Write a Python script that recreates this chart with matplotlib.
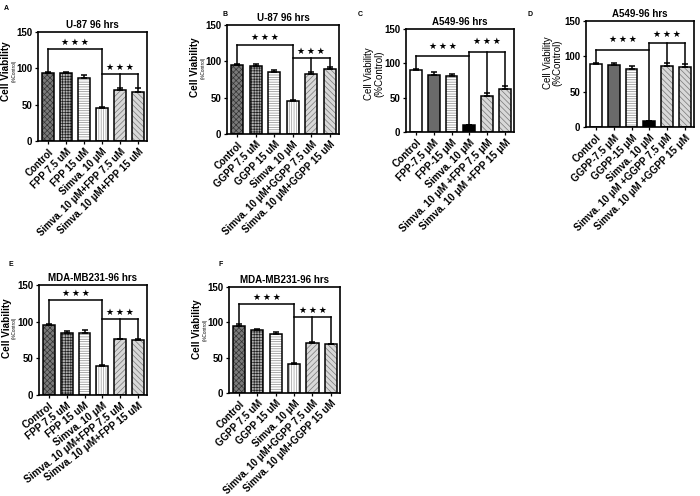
import matplotlib
matplotlib.use('Agg')
import matplotlib.pyplot as plt

# ---- data ----
labels_fpp = ['Control', 'FPP 7.5 uM', 'FPP 15 uM', 'Simva. 10 \u03bcM',
              'Simva. 10 \u03bcM+FPP 7.5 uM', 'Simva. 10 \u03bcM+FPP 15 uM']
labels_ggpp = ['Control', 'GGPP 7.5 uM', 'GGPP 15 uM', 'Simva. 10 \u03bcM',
               'Simva. 10 \u03bcM+GGPP 7.5 uM', 'Simva. 10 \u03bcM+GGPP 15 uM']
labels_fpp_a549 = ['Control', 'FPP-7.5 \u03bcM', 'FPP-15 \u03bcM', 'Simva. 10 \u03bcM',
                   'Simva. 10 \u03bcM +FPP 7.5 \u03bcM', 'Simva. 10 \u03bcM +FPP 15 \u03bcM']
labels_ggpp_a549 = ['Control', 'GGPP-7.5 \u03bcM', 'GGPP-15 \u03bcM', 'Simva. 10 \u03bcM',
                    'Simva. 10 \u03bcM +GGPP 7.5 \u03bcM', 'Simva. 10 \u03bcM +GGPP 15 \u03bcM']

vals_a = [94, 93, 87, 46, 70, 67]
errs_a = [1.5, 2, 4, 1, 3, 6]
vals_b = [95, 93, 85, 46, 82, 89]
errs_b = [2, 3, 3, 1, 4, 3]
vals_c = [90, 83, 82, 10, 53, 63]
errs_c = [1.5, 4, 3, 0.5, 4, 4]
vals_d = [89, 88, 82, 8, 86, 85]
errs_d = [1, 3, 4, 0.5, 4, 4]
vals_e = [95, 85, 85, 39.5, 76, 75]
errs_e = [2, 2, 4, 1, 1, 1]
vals_f = [95, 89, 83, 41, 71, 69]
errs_f = [2, 1, 3, 2, 1, 1]

# significance bracket heights (first: control vs simva, second: simva vs combos)
brackets_a = [126, 92]
brackets_b = [123, 105]
brackets_c = [111, 116]
brackets_d = [109, 119]
brackets_e = [130, 104]
brackets_f = [126, 108]

plt.rcParams['font.family'] = ['Liberation Sans', 'DejaVu Sans']
plt.rcParams['hatch.linewidth'] = 0.5

# (face, hatch, hatch colour)
STYLE_PAT = [('#7a7a7a', 'xxxxxx', '#333333'),
             ('#b0b0b0', '++++++', '#222222'),
             ('white', '-------', '#888888'),
             ('white', '|||||||', '#999999'),
             ('#d8d8d8', '//////', '#777777'),
             ('#d8d8d8', '\\\\\\\\\\\\', '#777777')]
STYLE_A549 = [('white', None, 'black'),
              ('#6a6a6a', None, 'black'),
              ('white', '-------', '#888888'),
              ('black', None, 'black'),
              ('#d8d8d8', '\\\\\\\\\\\\', '#777777'),
              ('#d8d8d8', '\\\\\\\\\\\\', '#777777')]

STARS = '\u2605\u2009\u2605\u2009\u2605'


def draw_panel(fig, rect, letter, title, labels, vals, errs, brackets, styles,
               small_label=True, label_x=(-0.27, -0.2), label_y=0.62, star_dy=(3, 3),
               xfont=7.0, xrot=45):
    ax = fig.add_axes(rect)
    x = list(range(len(vals)))
    w = 0.66
    for i, (face, hatch, hcol) in enumerate(styles):
        ax.bar(x[i], vals[i], w, color=face, edgecolor=hcol, hatch=hatch, linewidth=0, zorder=2)
    ax.bar(x, vals, w, fill=False, edgecolor='black', linewidth=1.1, zorder=3)
    ax.errorbar(x, vals, yerr=[[0] * len(errs), errs], fmt='none', ecolor='black',
                elinewidth=1.1, capsize=2.5, capthick=1.1, zorder=4)
    tops = [v + e for v, e in zip(vals, errs)]

    y1, y2 = brackets
    lw = 1.1
    # bracket 1: control vs simva
    ax.plot([0, 3], [y1, y1], color='black', lw=lw, zorder=5)
    ax.plot([0, 0], [y1, tops[0]], color='black', lw=lw, zorder=5)
    ax.plot([3, 3], [max(y1, y2), tops[3]], color='black', lw=lw, zorder=5)
    # bracket 2: simva vs combos
    ax.plot([3, 5], [y2, y2], color='black', lw=lw, zorder=5)
    for k in (4, 5):
        ax.plot([k, k], [y2, tops[k]], color='black', lw=lw, zorder=5)
    ax.text(1.5, y1 + star_dy[0], STARS, ha='center', va='bottom',
            fontsize=6.5, family=['DejaVu Sans'])
    ax.text(4, y2 + star_dy[1], STARS, ha='center', va='bottom',
            fontsize=6.5, family=['DejaVu Sans'])

    ax.set_xlim(-0.55, 5.5)
    ax.set_ylim(0, 150)
    ax.set_yticks([0, 50, 100, 150])
    ax.set_xticks(x)
    ax.set_xticklabels(labels, rotation=xrot, ha='right', rotation_mode='anchor',
                       fontsize=xfont, fontweight='bold')
    for lab in ax.get_yticklabels():
        lab.set_fontweight('bold')
    ax.tick_params(axis='y', labelsize=7)
    ax.tick_params(direction='out', length=2.5, width=0.9, pad=1.5)
    for sp in ax.spines.values():
        sp.set_linewidth(1.2)
    ax.set_title(title, fontsize=7, fontweight='bold', pad=3)

    if small_label:
        ax.text(label_x[0], label_y, 'Cell Viability', rotation=90, ha='center', va='center',
                fontsize=7.2, fontweight='bold', transform=ax.transAxes)
        ax.text(label_x[1], label_y, '(%Control)', rotation=90, ha='center', va='center',
                fontsize=3.3, transform=ax.transAxes)
    else:
        ax.text(label_x[0], label_y, 'Cell Viability\n(%Control)', rotation=90, ha='center',
                va='center', fontsize=7, linespacing=1.0, transform=ax.transAxes)

    fig.text(rect[0] + letter[1][0], rect[1] + rect[3] + letter[1][1], letter[0],
             fontsize=5, fontweight='bold', ha='left', va='center')
    return ax


def main() -> None:
    fig = plt.figure(figsize=(7.0, 4.96), dpi=100)
    W, H = 700.0, 496.0

    def rect(x0, x1, y0, y1):
        return [x0 / W, 1 - y1 / H, (x1 - x0) / W, (y1 - y0) / H]

    draw_panel(fig, rect(38, 147, 32, 141), ('A', (-34 / W, 23 / H)), 'U-87 96 hrs',
               labels_fpp, vals_a, errs_a, brackets_a, STYLE_PAT,
               label_x=(-0.295, -0.215), label_y=0.64)
    draw_panel(fig, rect(227, 339, 25, 134), ('B', (-5 / W, 10 / H)), 'U-87 96 hrs',
               labels_ggpp, vals_b, errs_b, brackets_b, STYLE_PAT,
               label_x=(-0.29, -0.215), label_y=0.61)
    draw_panel(fig, rect(406, 514, 29, 132), ('C', (-48 / W, 14 / H)), 'A549-96 hrs',
               labels_fpp_a549, vals_c, errs_c, brackets_c, STYLE_A549,
               small_label=False, label_x=(-0.295, 0), label_y=0.57, star_dy=(7, 10),
               xfont=7.3)
    draw_panel(fig, rect(586, 694, 21, 127), ('D', (-58 / W, 7 / H)), 'A549-96 hrs',
               labels_ggpp_a549, vals_d, errs_d, brackets_d, STYLE_A549,
               small_label=False, label_x=(-0.31, 0), label_y=0.61, star_dy=(8, 6),
               xfont=7.1)
    draw_panel(fig, rect(39, 147, 285, 395), ('E', (-31 / W, 21 / H)), 'MDA-MB231-96 hrs',
               labels_fpp, vals_e, errs_e, brackets_e, STYLE_PAT,
               label_x=(-0.3, -0.225), label_y=0.61, xfont=7.3, xrot=38)
    draw_panel(fig, rect(229, 340, 287, 393), ('F', (-10 / W, 23 / H)), 'MDA-MB231-96 hrs',
               labels_ggpp, vals_f, errs_f, brackets_f, STYLE_PAT,
               label_x=(-0.29, -0.215), label_y=0.6)

    fig.savefig('out.png', dpi=100)
    plt.close(fig)


if __name__ == '__main__':
    main()
